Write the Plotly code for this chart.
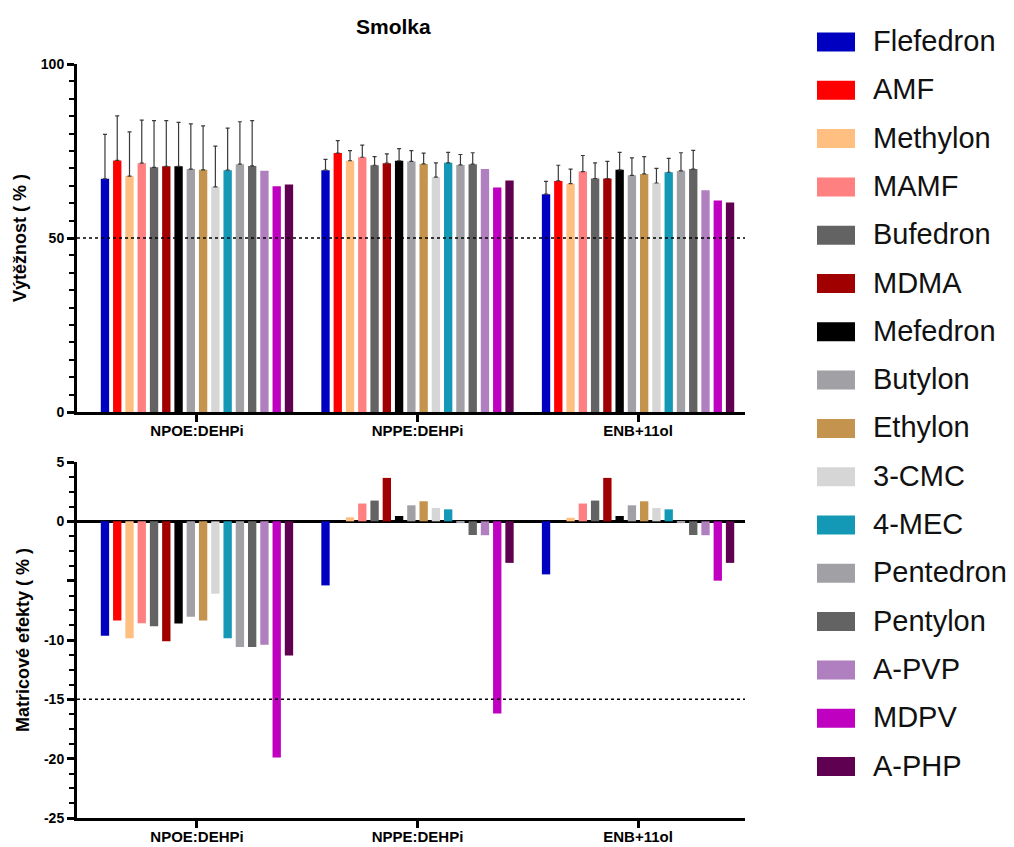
import plotly.graph_objects as go

# ---------------- data ----------------
groups = ["NPOE:DEHPi", "NPPE:DEHPi", "ENB+11ol"]
compounds = ["Flefedron", "AMF", "Methylon", "MAMF", "Bufedron", "MDMA", "Mefedron",
             "Butylon", "Ethylon", "3-CMC", "4-MEC", "Pentedron", "Pentylon",
             "A-PVP", "MDPV", "A-PHP"]
colors = ["#0000C0", "#FF0000", "#FFBF80", "#FF8080", "#636363", "#A00000", "#000000",
          "#A0A0A5", "#C4944F", "#D6D6D6", "#1399B5", "#A0A0A5", "#636363",
          "#B07FC0", "#C000C0", "#600050"]

# Recovery (%) per group, one value per compound
recovery_npoe = [67.0, 72.3, 67.8, 71.5, 70.3, 70.6, 70.6, 69.8, 69.6, 64.7, 69.5, 71.2, 70.7, 69.3, 64.9, 65.4]
recovery_nppe = [69.5, 74.4, 72.2, 73.2, 70.9, 71.5, 72.2, 72.0, 71.3, 67.5, 71.6, 71.0, 71.2, 69.8, 64.5, 66.5]
recovery_enb = [62.6, 66.4, 65.6, 69.1, 67.1, 67.1, 69.6, 68.0, 68.4, 65.8, 68.9, 69.3, 69.8, 63.7, 60.8, 60.2]

# Upper error (SD) of recovery; None = no error bar
err_npoe = [12.8, 12.8, 12.7, 12.4, 13.4, 13.1, 12.6, 13.0, 12.6, 11.7, 12.1, 12.2, 13.0, None, None, None]
err_nppe = [3.1, 3.6, 2.9, 3.5, 2.5, 2.7, 3.5, 3.1, 3.1, 4.1, 3.0, 3.0, 3.3, None, None, None]
err_enb = [3.7, 4.5, 4.2, 4.6, 4.5, 4.9, 5.0, 5.0, 5.0, 4.2, 4.0, 5.2, 5.4, None, None, None]

# Matrix effects (%)
matrix_npoe = [-9.65, -8.36, -9.85, -8.58, -8.84, -10.1, -8.61, -8.05, -8.36, -6.1, -9.85, -10.6, -10.58, -10.39, -19.9, -11.3]
matrix_nppe = [-5.4, 0.0, 0.34, 1.5, 1.75, 3.66, 0.45, 1.35, 1.69, 1.13, 1.01, -0.15, -1.15, -1.17, -16.2, -3.5]
matrix_enb = [-4.47, 0.0, 0.3, 1.5, 1.75, 3.66, 0.45, 1.35, 1.69, 1.13, 1.01, -0.15, -1.15, -1.17, -5.0, -3.5]

recovery_ticks = [0, 50, 100]
matrix_ticks = [5, 0, -5, -10, -15, -20, -25]
matrix_ticktext = ["5", "0", "", "-10", "-15", "-20", "-25"]

# ---------------- layout geometry ----------------
W, H = 1014, 847
ML, MR, MT, MB = 77, 269, 64, 29
PW, PH = W - ML - MR, H - MT - MB


def px_x(px):
    return (px - ML) / PW


def px_y(py):
    return (H - MB - py) / PH


FONT = "Liberation Sans, Arial, sans-serif"

fig = go.Figure()

for i, name in enumerate(compounds):
    errs = [err_npoe[i], err_nppe[i], err_enb[i]]
    has_err = errs[0] is not None
    fig.add_trace(go.Bar(
        x=groups,
        y=[recovery_npoe[i], recovery_nppe[i], recovery_enb[i]],
        name=name,
        marker=dict(color=colors[i], line=dict(width=0)),
        error_y=dict(type="data", symmetric=False,
                     array=[e if e is not None else 0 for e in errs],
                     arrayminus=[0, 0, 0], color="#3a3a3a", thickness=1.2, width=2,
                     visible=has_err),
        xaxis="x", yaxis="y", showlegend=False,
    ))
    fig.add_trace(go.Bar(
        x=groups,
        y=[matrix_npoe[i], matrix_nppe[i], matrix_enb[i]],
        name=name,
        marker=dict(color=colors[i], line=dict(width=0)),
        xaxis="x2", yaxis="y2", showlegend=False,
    ))

line_common = dict(showline=True, linecolor="black", linewidth=3, showgrid=False,
                   ticks="outside", tickcolor="black", tickwidth=3, ticklen=7,
                   automargin=False)
xfont = dict(family=FONT, size=15, color="black", weight="bold")
yfont = dict(family=FONT, size=14, color="black", weight="bold")
tfont = dict(family=FONT, size=18, color="black", weight="bold")

xrange = [-0.544, 2.485]

fig.update_layout(
    width=W, height=H, autosize=False,
    margin=dict(l=ML, r=MR, t=MT, b=MB),
    paper_bgcolor="white", plot_bgcolor="white",
    barmode="group", bargap=0.11, bargroupgap=0.32,
    xaxis=dict(domain=[0, 1], anchor="y", type="category", range=xrange,
               ticklabelstandoff=-4, tickfont=xfont, **line_common),
    yaxis=dict(domain=[px_y(412), 1.0], anchor="x", range=[0, 100],
               tickvals=recovery_ticks, zeroline=False, tickfont=yfont,
               minor=dict(dtick=5, ticks="outside", ticklen=5, tickwidth=2, tickcolor="black"),
               title=dict(text="Výtěžnost ( % )", standoff=10, font=tfont),
               **line_common),
    xaxis2=dict(domain=[0, 1], anchor="y2", type="category", range=xrange,
                ticklabelstandoff=-4, tickfont=xfont, **line_common),
    yaxis2=dict(domain=[0, px_y(462)], anchor="x2", range=[-25, 5],
                tickvals=matrix_ticks, ticktext=matrix_ticktext, tickfont=yfont,
                zeroline=True, zerolinecolor="black", zerolinewidth=3,
                minor=dict(dtick=1.25, ticks="outside", ticklen=5, tickwidth=2, tickcolor="black"),
                title=dict(text="Matricové efekty ( % )", standoff=10, font=tfont),
                **line_common),
)

# reference dotted lines
fig.add_shape(type="line", xref="x domain", yref="y", x0=0, x1=1, y0=50, y1=50,
              line=dict(color="black", width=1.5, dash="dot"))
fig.add_shape(type="line", xref="x2 domain", yref="y2", x0=0, x1=1, y0=-15, y1=-15,
              line=dict(color="black", width=1.5, dash="dot"))

# title
fig.add_annotation(text="Smolka", xref="paper", yref="paper", x=px_x(393), y=px_y(27),
                   showarrow=False, xanchor="center", yanchor="middle",
                   font=dict(family=FONT, size=21, color="black", weight="bold"))

# legend (drawn manually to match the large swatches)
for i, name in enumerate(compounds):
    cy = 42 + i * 48.3
    fig.add_shape(type="rect", xref="paper", yref="paper",
                  x0=px_x(817), x1=px_x(855), y0=px_y(cy - 9.5), y1=px_y(cy + 9.5),
                  fillcolor=colors[i], line=dict(width=0))
    fig.add_annotation(text=name, xref="paper", yref="paper", x=px_x(871), y=px_y(cy - 1),
                       showarrow=False, xanchor="left", yanchor="middle",
                       font=dict(family=FONT, size=29, color="#111111"))

fig.write_html(
    "out.html",
    config={"displayModeBar": False, "responsive": False},
    post_script=(
        "var gd=document.getElementById('{plot_id}');"
        "gd.style.position='absolute';gd.style.left='0';gd.style.top='0';"
        "document.body.style.margin='0';document.body.style.overflow='hidden';"
        "document.documentElement.style.overflow='hidden';"
    ),
)
